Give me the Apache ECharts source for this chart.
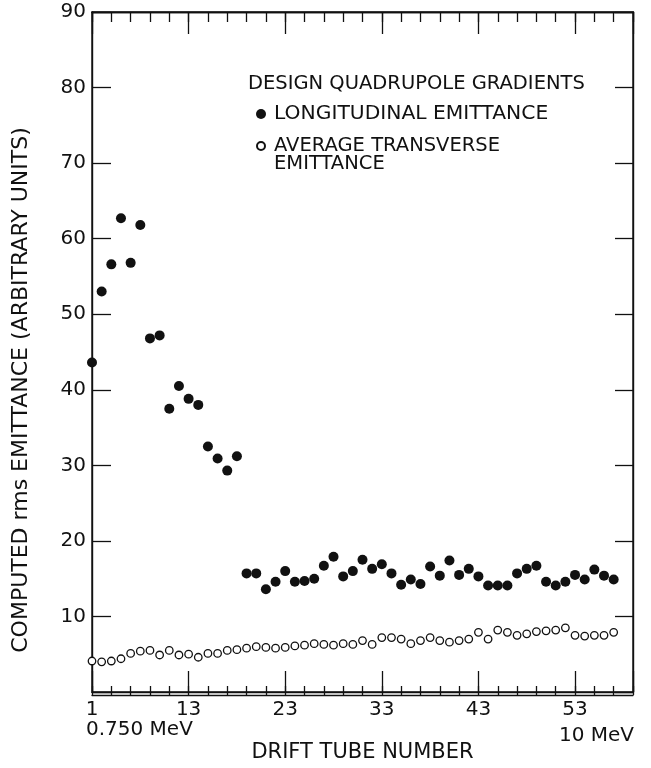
<!DOCTYPE html>
<html>
<head>
<meta charset="utf-8">
<script src="https://cdn.jsdelivr.net/npm/echarts@6/dist/echarts.min.js"></script>
<style>
html,body{margin:0;padding:0;background:#fff;}
#chart{width:651px;height:768px;}
</style>
</head>
<body>
<div id="chart"></div>
<script>
// Drift tube positions along the axis
const tubes = [3,4,5,6,7,8,9,10,11,12,13,14,15,16,17,18,19,20,21,22,23,24,25,26,27,28,29,30,
  31,32,33,34,35,36,37,38,39,40,41,42,43,44,45,46,47,48,49,50,51,52,53,54,55,56,57];
// Longitudinal emittance (filled dots)
const longitudinal = [43.6,53.0,56.6,62.7,56.8,61.8,46.8,47.2,37.5,40.5,38.8,38.0,32.5,30.9,29.3,31.2,
  15.7,15.7,13.6,14.6,16.0,14.6,14.7,15.0,16.7,17.9,15.3,16.0,17.5,16.3,16.9,15.7,14.2,14.9,14.3,
  16.6,15.4,17.4,15.5,16.3,15.3,14.1,14.1,14.1,15.7,16.3,16.7,14.6,14.1,14.6,15.5,14.9,16.2,15.4,14.9];
// Average transverse emittance (open circles)
const transverse = [4.1,4.0,4.1,4.4,5.1,5.4,5.5,4.9,5.5,4.9,5.0,4.6,5.1,5.1,5.5,5.6,5.8,6.0,5.9,5.8,
  5.9,6.1,6.2,6.4,6.3,6.2,6.4,6.3,6.8,6.3,7.2,7.2,7.0,6.4,6.8,7.2,6.8,6.6,6.8,7.0,7.9,7.0,8.2,7.9,
  7.5,7.7,8.0,8.1,8.2,8.5,7.5,7.4,7.5,7.5,7.9];
// Tick labels
const xTickValues = [3,13,23,33,43,53];
const xTickLabels = ['1','13','23','33','43','53'];
const yTickValues = [10,20,30,40,50,60,70,80,90];
const yTickLabels = ['10','20','30','40','50','60','70','80','90'];

const FONT = 'DejaVu Sans';
const INK = '#111';
const chart = echarts.init(document.getElementById('chart'), null, {renderer:'canvas'});

const xMin = 3, xMax = 59;
function xLabel(v){ const i = xTickValues.indexOf(v); return i >= 0 ? xTickLabels[i] : ''; }
function yLabel(v){ const i = yTickValues.indexOf(v); return i >= 0 ? yTickLabels[i] : ''; }
const tickLine = {color: INK, width: 1.3};
const axisLn = {show: true, onZero: false, lineStyle: {color: INK, width: 1.4}};
const gridBox = {left: 92, right: 18, top: 12, bottom: 73};

chart.setOption({
  animation: false,
  backgroundColor: '#fff',
  grid: [
    Object.assign({show: true, borderColor: INK, borderWidth: 1.4}, gridBox),
    Object.assign({show: false}, gridBox)
  ],
  title: {
    text: 'DESIGN QUADRUPOLE GRADIENTS', left: 248, top: 74, padding: 0,
    textStyle: {fontFamily: FONT, fontSize: 19.5, fontWeight: 'normal', color: INK, lineHeight: 20}
  },
  legend: [
    {
      data: ['LONGITUDINAL EMITTANCE'], left: 256, top: 104, padding: 0,
      orient: 'vertical', itemWidth: 16, itemHeight: 10, icon: 'circle', selectedMode: false,
      textStyle: {fontFamily: FONT, fontSize: 20.3, color: INK, lineHeight: 18}
    },
    {
      data: ['AVERAGE TRANSVERSE EMITTANCE'], left: 256, top: 118, padding: 0,
      orient: 'vertical', itemWidth: 16, itemHeight: 8, icon: 'circle', selectedMode: false,
      formatter: function(){ return '\nAVERAGE TRANSVERSE\nEMITTANCE'; },
      textStyle: {fontFamily: FONT, fontSize: 19.5, color: INK, lineHeight: 18}
    }
  ],
  xAxis: [
    {
      type: 'value', gridIndex: 0, position: 'bottom', min: xMin, max: xMax, interval: 10,
      axisLine: axisLn,
      axisTick: {show: true, inside: true, length: 21, lineStyle: tickLine},
      axisLabel: {formatter: xLabel, margin: 8, fontFamily: FONT, fontSize: 20, color: INK,
        showMinLabel: true, showMaxLabel: true},
      splitLine: {show: false},
      name: 'DRIFT TUBE NUMBER', nameLocation: 'middle', nameGap: 50,
      nameTextStyle: {fontFamily: FONT, fontSize: 21, color: INK}
    },
    {
      type: 'value', gridIndex: 0, position: 'top', min: xMin, max: xMax, interval: 10,
      axisLine: axisLn,
      axisTick: {show: true, inside: true, length: 22, lineStyle: tickLine},
      axisLabel: {show: false}, splitLine: {show: false}
    },
    {
      type: 'value', gridIndex: 1, position: 'bottom', min: xMin, max: xMax, interval: 2,
      axisLine: axisLn,
      axisTick: {show: true, inside: true, length: 9, lineStyle: tickLine},
      axisLabel: {show: false}, splitLine: {show: false}
    },
    {
      type: 'value', gridIndex: 1, position: 'top', min: xMin, max: xMax, interval: 2,
      axisLine: axisLn,
      axisTick: {show: true, inside: true, length: 10, lineStyle: tickLine},
      axisLabel: {show: false}, splitLine: {show: false}
    }
  ],
  yAxis: [
    {
      type: 'value', gridIndex: 0, position: 'left', min: 0, max: 90, interval: 10,
      axisLine: axisLn,
      axisTick: {show: true, inside: true, length: 19, lineStyle: tickLine},
      axisLabel: {formatter: yLabel, margin: 6, fontFamily: FONT, fontSize: 20, color: INK},
      splitLine: {show: false}
    },
    {
      type: 'value', gridIndex: 0, position: 'right', min: 0, max: 90, interval: 10,
      axisLine: axisLn,
      axisTick: {show: true, inside: true, length: 18, lineStyle: tickLine},
      axisLabel: {show: false}, splitLine: {show: false}
    },
    {
      type: 'value', gridIndex: 1, position: 'left', min: 0, max: 90, interval: 10,
      axisLine: {show: false}, axisTick: {show: false}, axisLabel: {show: false}, splitLine: {show: false}
    }
  ],
  graphic: [
    {
      type: 'text', x: 21, y: 390, rotation: Math.PI / 2,
      style: {text: 'COMPUTED rms EMITTANCE (ARBITRARY UNITS)', fontFamily: FONT, fontSize: 22,
        fill: INK, align: 'center', verticalAlign: 'middle'}
    },
    {
      type: 'text', x: 86, y: 730,
      style: {text: '0.750 MeV', fontFamily: FONT, fontSize: 20, fill: INK, align: 'left', verticalAlign: 'middle'}
    },
    {
      type: 'text', x: 634, y: 736,
      style: {text: '10 MeV', fontFamily: FONT, fontSize: 20, fill: INK, align: 'right', verticalAlign: 'middle'}
    }
  ],
  series: [
    {
      name: 'LONGITUDINAL EMITTANCE', type: 'scatter', xAxisIndex: 0, yAxisIndex: 0,
      symbol: 'circle', symbolSize: 10,
      itemStyle: {color: INK, opacity: 1},
      data: tubes.map((t, i) => [t, longitudinal[i]])
    },
    {
      name: 'AVERAGE TRANSVERSE EMITTANCE', type: 'scatter', xAxisIndex: 0, yAxisIndex: 0,
      symbol: 'circle', symbolSize: 7.5,
      itemStyle: {color: '#fff', borderColor: INK, borderWidth: 1.3, opacity: 1},
      data: tubes.map((t, i) => [t, transverse[i]])
    }
  ]
});
</script>
</body>
</html>
